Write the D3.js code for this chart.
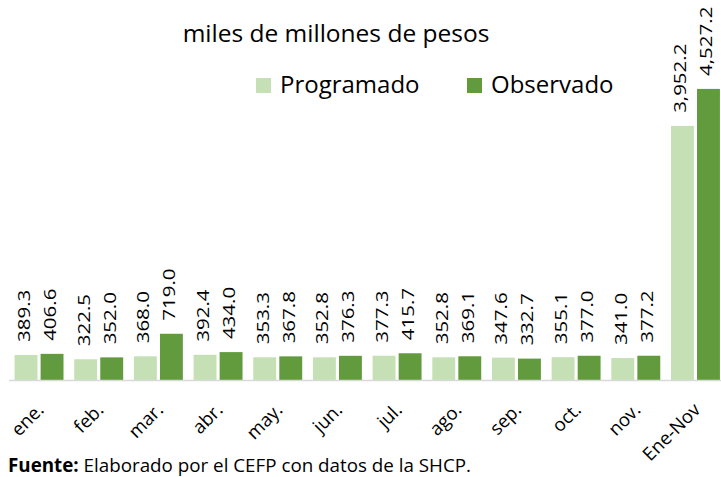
<!DOCTYPE html>
<html>
<head>
<meta charset="utf-8">
<script src="https://cdn.jsdelivr.net/npm/d3@7"></script>
<style>
  body { margin: 0; background: #fff; }
  text { font-family: "Open Sans", sans-serif; fill: #000; }
</style>
</head>
<body>
<div id="chart"></div>
<script>
// categories and series
const categories = ["ene.", "feb.", "mar.", "abr.", "may.", "jun.", "jul.", "ago.", "sep.", "oct.", "nov.", "Ene-Nov"];
const programado = [389.3, 322.5, 368.0, 392.4, 353.3, 352.8, 377.3, 352.8, 347.6, 355.1, 341.0, 3952.2];
const observado = [406.6, 352.0, 719.0, 434.0, 367.8, 376.3, 415.7, 369.1, 332.7, 377.0, 377.2, 4527.2];
const seriesNames = ["Programado", "Observado"];
const colors = ["#c5e0b4", "#629b3e"];

const width = 721, height = 477;
const baseY = 380;

const svg = d3.select("#chart")
    .append("svg")
    .attr("width", width)
    .attr("height", height);

// scales
const x0 = d3.scaleBand()
    .domain(categories)
    .range([9.2, 725.3])
    .paddingInner(0.18)
    .paddingOuter(0.09);

const x1 = d3.scaleBand()
    .domain(seriesNames)
    .range([0, x0.bandwidth()])
    .paddingInner(0.12);

const y = d3.scaleLinear()
    .domain([0, 5000])
    .range([baseY, baseY - 321.5]);

const color = d3.scaleOrdinal().domain(seriesNames).range(colors);

// rows for drawing
const rows = categories.map((c, i) => ({
    cat: c,
    values: [
        { key: "Programado", value: programado[i] },
        { key: "Observado", value: observado[i] }
    ]
}));

// bars
const groups = svg.selectAll(".group")
    .data(rows)
    .enter()
    .append("g")
    .attr("class", "group")
    .attr("transform", d => `translate(${x0(d.cat)},0)`);

groups.selectAll("rect")
    .data(d => d.values)
    .enter()
    .append("rect")
    .attr("x", d => x1(d.key))
    .attr("y", d => y(d.value))
    .attr("width", x1.bandwidth())
    .attr("height", d => baseY - y(d.value))
    .attr("fill", d => color(d.key));

// value labels (rotated)
const fmt = d3.format(",.1f");
groups.selectAll(".val")
    .data(d => d.values)
    .enter()
    .append("text")
    .attr("class", "val")
    .attr("transform", d => `translate(${x1(d.key) + x1.bandwidth() / 2 + 4},${y(d.value) - 13}) rotate(-90) scale(1,0.78)`)
    .attr("font-size", 20.5)
    .text(d => fmt(d.value));

// baseline
svg.append("line")
    .attr("x1", 9).attr("x2", width)
    .attr("y1", baseY + 0.5).attr("y2", baseY + 0.5)
    .attr("stroke", "#d9d9d9")
    .attr("stroke-width", 1.5);

// category axis labels, rotated 45 degrees
const catG = svg.selectAll(".cat")
    .data(categories)
    .enter()
    .append("g")
    .attr("class", "cat")
    .attr("transform", d => `translate(${x0(d) + x0.bandwidth() / 2 + 6},411)`);

catG.append("g")
    .attr("transform", "rotate(-45)")
    .append("text")
    .attr("text-anchor", "end")
    .attr("font-size", 18.5)
    .text(d => d);

// title
svg.append("text")
    .attr("x", 336)
    .attr("y", 42)
    .attr("text-anchor", "middle")
    .attr("font-size", 24.5)
    .text("miles de millones de pesos");

// legend
const legendX = [256, 467];
const legend = svg.selectAll(".legend")
    .data(seriesNames)
    .enter()
    .append("g")
    .attr("class", "legend")
    .attr("transform", (d, i) => `translate(${legendX[i]},78)`);

legend.append("rect")
    .attr("width", 15)
    .attr("height", 15)
    .attr("fill", d => color(d));

legend.append("text")
    .attr("x", 24)
    .attr("y", 15)
    .attr("font-size", 24)
    .text(d => d);

// source note
const note = svg.append("text")
    .attr("x", 8)
    .attr("y", 472)
    .attr("font-size", 18.8);
note.append("tspan").attr("font-weight", "bold").text("Fuente:");
note.append("tspan").text(" Elaborado por el CEFP con datos de la SHCP.");
</script>
</body>
</html>
